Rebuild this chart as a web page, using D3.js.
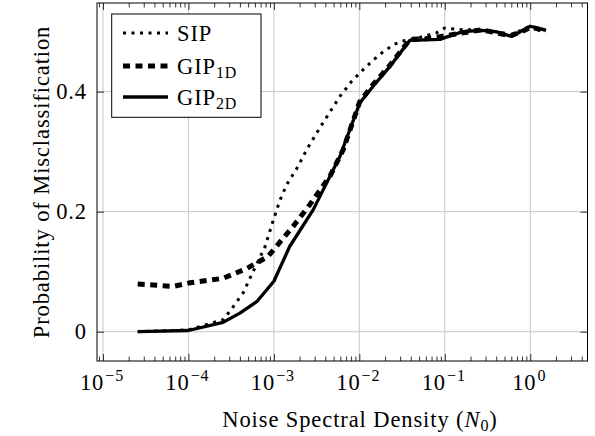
<!DOCTYPE html>
<html>
<head>
<meta charset="utf-8">
<script src="https://cdn.jsdelivr.net/npm/d3@7"></script>
<style>
  html, body { margin: 0; padding: 0; background: #fff; }
  svg text { font-family: "Liberation Serif", "DejaVu Serif", serif; fill: #000; }
</style>
</head>
<body>
<svg id="chart" width="595" height="436"></svg>
<script>
// ---------------- data ----------------
const sipN0 = [2.55e-5, 1e-4, 2.54e-4, 3.05e-4, 4.36e-4, 5.7e-4, 7.8e-4, 9.8e-4, 1.17e-3, 1.41e-3, 1.92e-3, 2.41e-3, 3.64e-3, 5.92e-3, 8.1e-3, 1.16e-2, 1.66e-2, 2.49e-2, 3.12e-2, 5.0e-2, 8.0e-2, 0.1, 0.163, 0.27, 0.404, 0.606, 1.0, 1.53];
const sipP  = [0.0, 0.003, 0.02, 0.034, 0.0645, 0.1, 0.14, 0.185, 0.218, 0.245, 0.2755, 0.303, 0.345, 0.392, 0.417, 0.4395, 0.46, 0.478, 0.484, 0.49, 0.498, 0.506, 0.503, 0.503, 0.5, 0.495, 0.509, 0.503];

const gip1dN0 = [2.55e-5, 6.6e-5, 1e-4, 2.54e-4, 4.77e-4, 8.55e-4, 1.68e-3, 2.63e-3, 4.52e-3, 6.46e-3, 1.01e-2, 1.45e-2, 2.28e-2, 3.9e-2, 6.0e-2, 0.1, 0.163, 0.27, 0.404, 0.5, 0.606, 0.8, 1.0, 1.2, 1.53];
const gip1dP  = [0.0795, 0.0755, 0.081, 0.089, 0.105, 0.1255, 0.1755, 0.2117, 0.259, 0.303, 0.383, 0.412, 0.444, 0.487, 0.488, 0.493, 0.498, 0.503, 0.498, 0.495, 0.494, 0.5, 0.507, 0.505, 0.5];

const gip2dN0 = [2.55e-5, 1e-4, 2.54e-4, 4.0e-4, 6.3e-4, 1.0e-3, 1.53e-3, 2.88e-3, 5.92e-3, 1.01e-2, 1.45e-2, 2.28e-2, 3.9e-2, 8.8e-2, 0.1, 0.163, 0.27, 0.404, 0.606, 1.0, 1.53];
const gip2dP  = [0.0, 0.002, 0.0155, 0.031, 0.05, 0.084, 0.142, 0.203, 0.292, 0.381, 0.409, 0.442, 0.4855, 0.487, 0.49, 0.5, 0.502, 0.4995, 0.492, 0.509, 0.502];

const xMajorExps = [-5, -4, -3, -2, -1, 0];
const yTicks = [0, 0.2, 0.4];
const yTickLabels = ["0", "0.2", "0.4"];
const seriesNames = ["SIP", "GIP", "GIP"];
const seriesSubs = ["", "1D", "2D"];
const xLabelMain = "Noise Spectral Density (";
const yLabel = "Probability of Misclassification";

// ---------------- layout ----------------
const FS = 22.5, FSS = 16, LS = 0.9;
const svg = d3.select("#chart");
const L = 97, R = 587.5, T = 3, B = 361;
const x = d3.scaleLog().domain([Math.pow(10, -5.070), Math.pow(10, 0.670)]).range([L, R]);
const y = d3.scaleLinear().domain([-0.0488, 0.5477]).range([B, T]);

// minor ticks
const minorTicks = [];
for (let e = -6; e <= 0; e++) for (let m = 2; m <= 9; m++) {
  const v = m * Math.pow(10, e);
  if (v >= x.domain()[0] && v <= x.domain()[1]) minorTicks.push(v);
}
const majorTicks = xMajorExps.map(e => Math.pow(10, e));

// grid
const grid = svg.append("g");
grid.selectAll("line.gx").data(majorTicks).join("line")
  .attr("x1", d => x(d)).attr("x2", d => x(d)).attr("y1", T).attr("y2", B)
  .attr("stroke", "#c8c8c8").attr("stroke-width", 1);
grid.selectAll("line.gy").data(yTicks).join("line")
  .attr("y1", d => y(d)).attr("y2", d => y(d)).attr("x1", L).attr("x2", R)
  .attr("stroke", "#c8c8c8").attr("stroke-width", 1);

// axes via d3 axis generators (ticks pointing inward)
function styleAxis(g) { g.select(".domain").remove(); g.selectAll("line").attr("stroke", "#000").attr("stroke-width", 0.8); }
svg.append("g").attr("transform", `translate(0,${B})`)
  .call(d3.axisBottom(x).tickValues(minorTicks).tickSize(-4.5).tickFormat("")).call(styleAxis);
svg.append("g").attr("transform", `translate(0,${B})`)
  .call(d3.axisBottom(x).tickValues(majorTicks).tickSize(-7).tickFormat("")).call(styleAxis);
svg.append("g").attr("transform", `translate(0,${T})`)
  .call(d3.axisTop(x).tickValues(minorTicks).tickSize(-4.5).tickFormat("")).call(styleAxis);
svg.append("g").attr("transform", `translate(0,${T})`)
  .call(d3.axisTop(x).tickValues(majorTicks).tickSize(-7).tickFormat("")).call(styleAxis);
svg.append("g").attr("transform", `translate(${L},0)`)
  .call(d3.axisLeft(y).tickValues(yTicks).tickSize(-7).tickFormat("")).call(styleAxis);
svg.append("g").attr("transform", `translate(${R},0)`)
  .call(d3.axisRight(y).tickValues(yTicks).tickSize(-7).tickFormat("")).call(styleAxis);

// frame
svg.append("rect").attr("x", L).attr("y", T).attr("width", R - L).attr("height", B - T)
  .attr("fill", "none").attr("stroke", "#000").attr("stroke-width", 1);

// x tick labels
const xl = svg.append("g").selectAll("text").data(xMajorExps).join("text")
  .attr("x", d => x(Math.pow(10, d)) - 1).attr("y", 390)
  .attr("text-anchor", "middle").attr("font-size", FS).attr("letter-spacing", LS);
xl.append("tspan").text("10");
xl.append("tspan").attr("dy", -9).attr("font-size", FSS).attr("dx", 1).text(d => d < 0 ? "\u2212" + Math.abs(d) : String(d));

// y tick labels
svg.append("g").selectAll("text").data(yTicks).join("text")
  .attr("x", 87).attr("y", d => y(d)).attr("dy", "0.33em")
  .attr("text-anchor", "end").attr("font-size", FS).attr("letter-spacing", LS)
  .text((d, i) => yTickLabels[i]);

// axis labels
const xt = svg.append("text").attr("x", 360).attr("y", 427).attr("text-anchor", "middle")
  .attr("font-size", FS).attr("letter-spacing", LS);
xt.append("tspan").text(xLabelMain);
xt.append("tspan").attr("font-style", "italic").text("N");
xt.append("tspan").attr("dy", 4).attr("font-size", FSS).text("0");
xt.append("tspan").attr("dy", -4).text(")");

svg.append("text").attr("transform", `translate(49,${(T + B) / 2}) rotate(-90)`)
  .attr("text-anchor", "middle").attr("font-size", FS).attr("letter-spacing", LS).text(yLabel);

// lines
svg.append("clipPath").attr("id", "clip").append("rect")
  .attr("x", L).attr("y", T).attr("width", R - L).attr("height", B - T);
const line = d3.line().x(d => x(d[0])).y(d => y(d[1]));
const series = [
  { n: sipN0, p: sipP, width: 3, dash: "3,5.5" },
  { n: gip1dN0, p: gip1dP, width: 5, dash: "7,5.5" },
  { n: gip2dN0, p: gip2dP, width: 3.3, dash: null }
];
const lg = svg.append("g").attr("clip-path", "url(#clip)");
series.forEach(s => {
  lg.append("path").datum(s.n.map((v, i) => [v, s.p[i]]))
    .attr("d", line).attr("fill", "none").attr("stroke", "#000")
    .attr("stroke-width", s.width).attr("stroke-dasharray", s.dash)
    .attr("stroke-linejoin", "round");
});

// legend
const leg = svg.append("g");
leg.append("rect").attr("x", 111.7).attr("y", 14).attr("width", 149.3).attr("height", 103.3)
  .attr("fill", "#fff").attr("stroke", "#000").attr("stroke-width", 1);
const rows = [33, 66, 97];
series.forEach((s, i) => {
  leg.append("line").attr("x1", 123).attr("x2", 168).attr("y1", rows[i]).attr("y2", rows[i])
    .attr("stroke", "#000").attr("stroke-width", s.width).attr("stroke-dasharray", s.dash);
  const t = leg.append("text").attr("x", 177).attr("y", rows[i]).attr("dy", "0.35em")
    .attr("font-size", FS).attr("letter-spacing", LS);
  t.append("tspan").text(seriesNames[i]);
  if (seriesSubs[i]) t.append("tspan").attr("dy", 4).attr("font-size", FSS).text(seriesSubs[i]);
});
</script>
</body>
</html>
